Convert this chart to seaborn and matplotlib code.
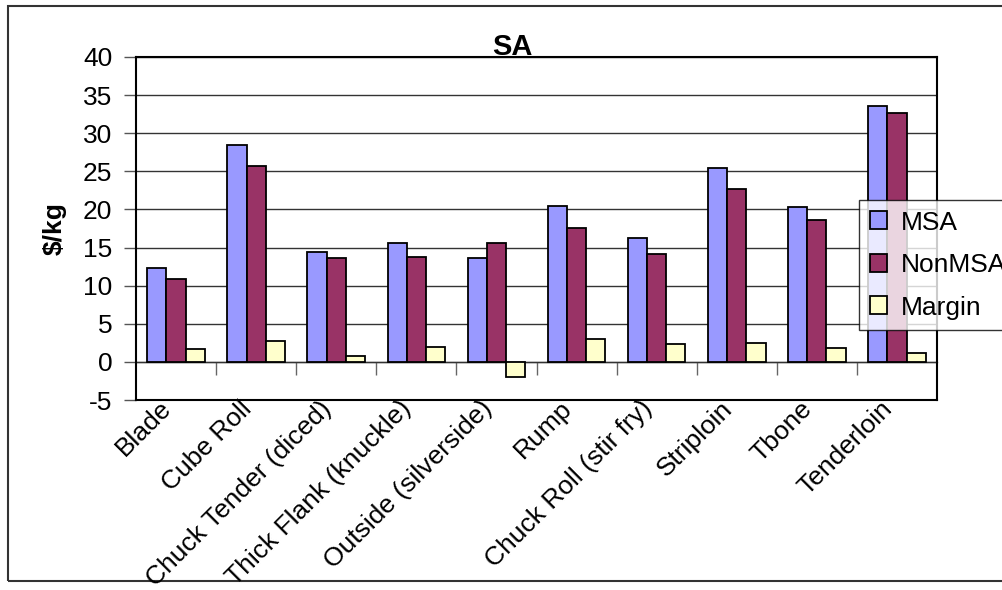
import matplotlib
matplotlib.use("Agg")
import matplotlib.pyplot as plt
from matplotlib.patches import Rectangle
from matplotlib.transforms import ScaledTranslation
import seaborn as sns
import pandas as pd

cuts = ["Blade", "Cube Roll", "Chuck Tender (diced)", "Thick Flank (knuckle)",
        "Outside (silverside)", "Rump", "Chuck Roll (stir fry)", "Striploin",
        "Tbone", "Tenderloin"]
msa = [12.3, 28.4, 14.4, 15.6, 13.6, 20.5, 16.3, 25.5, 20.3, 33.6]
non_msa = [10.9, 25.7, 13.6, 13.8, 15.6, 17.5, 14.1, 22.7, 18.6, 32.6]
margin = [1.7, 2.8, 0.8, 2.0, -2.0, 3.0, 2.3, 2.5, 1.8, 1.2]
series_names = ["MSA", "NonMSA", "Margin"]
series_colors = ["#9999FF", "#993366", "#FFFFCC"]
y_ticks = [-5, 0, 5, 10, 15, 20, 25, 30, 35, 40]

df = pd.DataFrame({
    "cut": cuts * 3,
    "value": msa + non_msa + margin,
    "series": [s for s in series_names for _ in cuts],
})

sns.set_theme(style="white")
plt.rcParams["font.family"] = ["Liberation Sans", "DejaVu Sans"]
plt.rcParams["text.color"] = "black"
plt.rcParams["axes.labelcolor"] = "black"
plt.rcParams["xtick.color"] = "black"
plt.rcParams["ytick.color"] = "black"

fig = plt.figure(figsize=(10.02, 5.9), dpi=100)
ax = fig.add_axes([136 / 1002, 1 - 400 / 590, (937 - 136) / 1002, (400 - 57) / 590])

sns.barplot(data=df, x="cut", y="value", hue="series", order=cuts,
            hue_order=series_names, palette=series_colors, width=0.72,
            edgecolor="black", linewidth=1.3, saturation=1, ax=ax, zorder=3)

ax.set_ylim(y_ticks[0], y_ticks[-1])
ax.set_yticks(y_ticks)
ax.set_yticklabels([str(t) for t in y_ticks], fontsize=19)
ax.yaxis.grid(True, color="#333333", linewidth=1.0)
ax.set_axisbelow(True)
ax.tick_params(axis="y", direction="out", length=9, width=1, color="#555555",
               labelcolor="black", left=True, pad=8)
ax.tick_params(axis="x", bottom=False, length=0, pad=1, labelcolor="black")
ax.set_xticks(range(len(cuts)))
ax.set_xticklabels(cuts, rotation=45, ha="right", va="top",
                   rotation_mode="anchor", fontsize=19)
shift = ScaledTranslation(-17 / 100, 5 / 100, fig.dpi_scale_trans)
for lbl in ax.get_xticklabels():
    lbl.set_transform(lbl.get_transform() + shift)

for side in ["left", "right", "top", "bottom"]:
    ax.spines[side].set_visible(True)
    ax.spines[side].set_color("black")
    ax.spines[side].set_linewidth(1.5)

ax.set_xlabel("")
ax.set_ylabel("$/kg", fontsize=19, fontweight="bold", labelpad=12)

# category axis crossing at zero, with ticks between categories
zero_loc = (0 - y_ticks[0]) / (y_ticks[-1] - y_ticks[0])
sec = ax.secondary_xaxis(zero_loc)
sec.set_xticks([i + 0.5 for i in range(len(cuts) - 1)])
sec.set_xticklabels([])
sec.tick_params(direction="out", length=9, width=1, color="#666666")
sec.spines["bottom"].set_color("#666666")
sec.spines["bottom"].set_linewidth(1.0)

fig.text(512 / 1002, 1 - 55 / 590, "SA", ha="center", va="baseline",
         fontsize=21, fontweight="bold")

leg = ax.legend(loc="upper left", bbox_to_anchor=(859 / 1002, 1 - 200 / 590),
                bbox_transform=fig.transFigure, fontsize=19, frameon=True,
                fancybox=False, handlelength=0.65, handleheight=0.65,
                handletextpad=0.55, labelspacing=0.7, borderpad=0.4,
                borderaxespad=0)
leg.get_frame().set_edgecolor("black")
leg.get_frame().set_linewidth(1.0)
for h in leg.legend_handles:
    h.set_edgecolor("black")
    h.set_linewidth(1.3)
for t in leg.get_texts():
    t.set_color("black")

fig.patches.append(Rectangle((8 / 1002, 1 - 581 / 590), 1.2, (581 - 6) / 590,
                             transform=fig.transFigure, fill=False,
                             edgecolor="#333333", linewidth=1.5, zorder=-1))

fig.savefig("out.png", dpi=100, facecolor="white")
